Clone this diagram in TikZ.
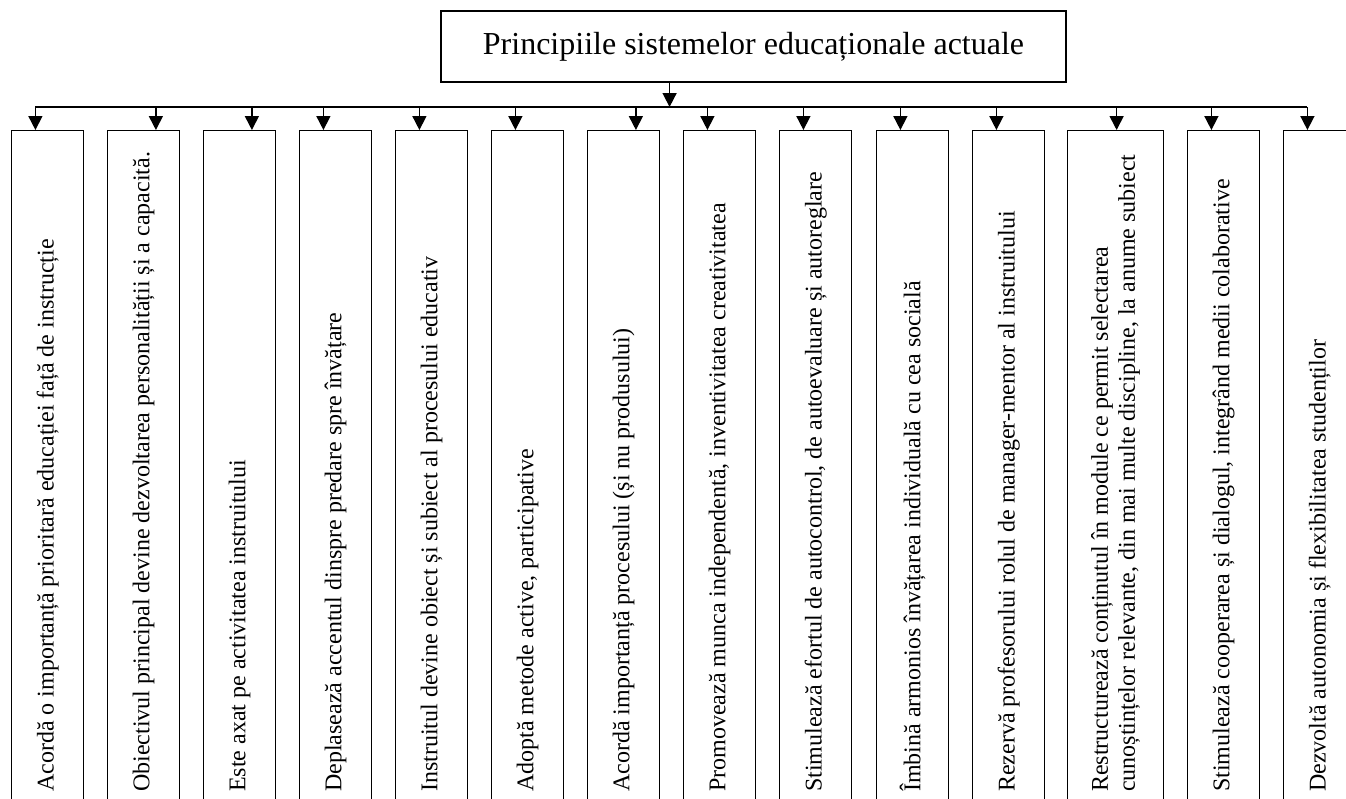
\documentclass[tikz,border=0pt]{standalone}
\usepackage{fontspec}
\setmainfont{Liberation Serif}
\usetikzlibrary{arrows.meta,positioning,calc}

\begin{document}
\begin{tikzpicture}[x=1pt, y=-1pt,
    title/.style={rectangle, draw, line width=1.3pt, minimum width=625pt, minimum height=71pt, font=\fontsize{32}{38}\selectfont},
    box/.style={rectangle, draw, line width=1.3pt, minimum height=700pt, inner sep=0pt, anchor=north west},
    lbl/.style={rotate=90, anchor=west, inner sep=0pt, align=left, font=\fontsize{24}{27}\selectfont},
    arrow/.style={-{Triangle[width=14pt,length=14pt]}, line width=1.6pt}
]

\useasboundingbox (0,0) rectangle (1346,798);
\clip (0,0) rectangle (1346,798);

\node[title] (title) at (753.5,46.5) {Principiile sistemelor educaționale actuale};
\coordinate (bar) at (0,107);

% the fourteen principles
\foreach \i/\x/\w/\f/\txt in {
    1/11/72/0.333/{Acordă o importanță prioritară educației față de instrucție},
    2/107/72/0.667/{Obiectivul principal devine dezvoltarea personalității și a capacită.},
    3/203/72/0.667/{Este axat pe activitatea instruitului},
    4/299/72/0.333/{Deplasează accentul dinspre predare spre învățare},
    5/395/72/0.333/{Instruitul devine obiect și subiect al procesului educativ},
    6/491/72/0.333/{Adoptă metode active, participative},
    7/587/72/0.667/{Acordă importanță procesului (și nu produsului)},
    8/683/72/0.333/{Promovează munca independentă, inventivitatea creativitatea},
    9/779/72/0.333/{Stimulează efortul de autocontrol, de autoevaluare și autoreglare},
    10/876/72/0.333/{Îmbină armonios învățarea individuală cu cea socială},
    11/972/72/0.333/{Rezervă profesorului rolul de manager-mentor al instruitului},
    12/1067/96/0.51/{Restructurează conținutul în module ce permit selectarea\\cunoștințelor relevante, din mai multe discipline, la anume subiect},
    13/1187/72/0.333/{Stimulează cooperarea și dialogul, integrând medii colaborative},
    14/1283/72/0.333/{Dezvoltă autonomia și flexibilitatea studenților}}{
  \node[box, minimum width=\w pt] (b\i) at (\x,130) {};
  \node[lbl] (t\i) at ($(b\i.north)+(0,662)$) {\txt};
  \coordinate (a\i) at ($(b\i.north west)!\f!(b\i.north east)$);
  \draw[arrow] (a\i |- bar) -- (a\i);
}

\draw[line width=1.6pt] (a1 |- bar) -- (a14 |- bar);
\coordinate (tin) at ($(title.south west)!0.366!(title.south east)$);
\draw[arrow] (tin) -- (tin |- bar);

\end{tikzpicture}
\end{document}
